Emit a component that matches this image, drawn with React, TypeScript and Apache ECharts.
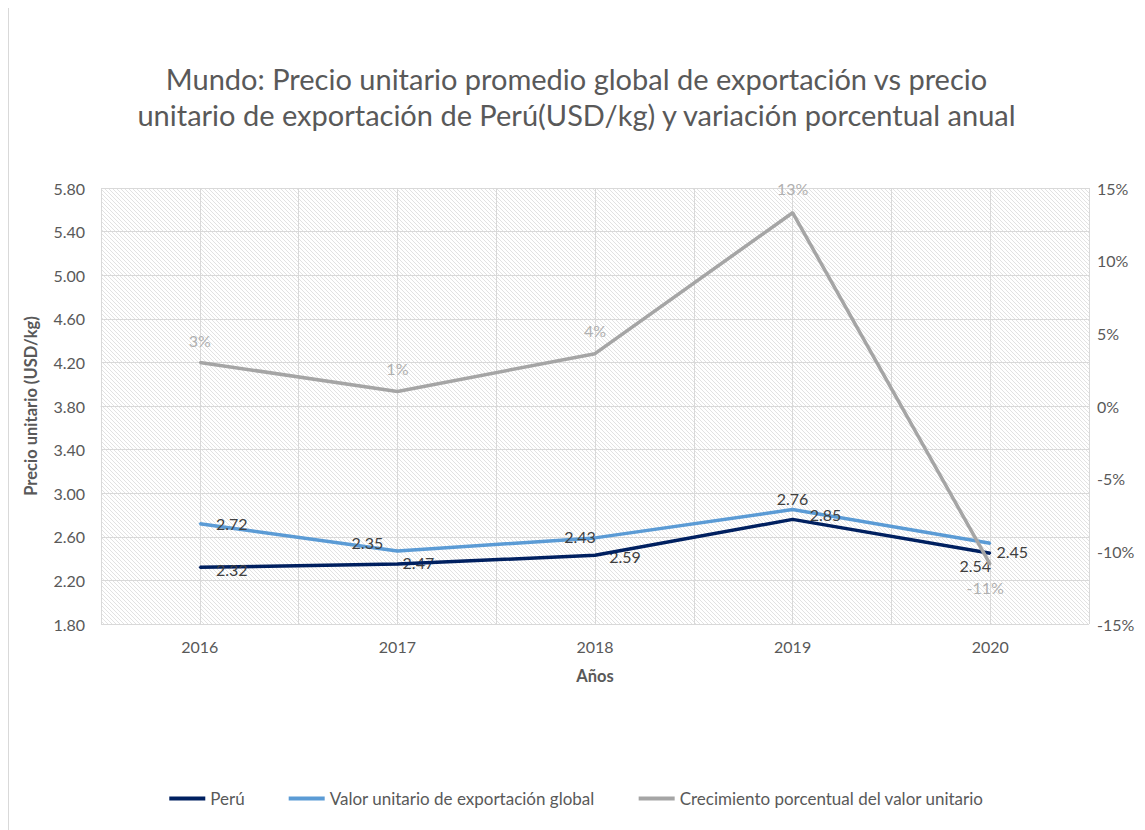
import React, { useEffect, useRef } from "react";
import * as echarts from "echarts";

const years = ["2016", "2017", "2018", "2019", "2020"];
const peru = [2.32, 2.35, 2.43, 2.76, 2.45];
const globalUnit = [2.72, 2.47, 2.59, 2.85, 2.54];
const growth = [3.0, 1.0, 3.6, 13.3, -10.9];

const peruLabelOffsets = [[32, 2], [-30, -22], [-15, -19], [0, -21], [22, -2]];
const globalLabelOffsets = [[32, 0], [21, 12], [30, 19], [33, 5], [-15, 22]];
const growthLabelOffsets = [[0, -22], [0, -23], [0, -23], [0, -24], [-5, 23]];

const FONT = "Lato, 'Noto Sans', sans-serif";
const C_PERU = "#002060";
const C_GLOBAL = "#5B9BD5";
const C_GROWTH = "#A5A5A5";
const C_TEXT = "#595959";
const C_GRID = "#d9d9d9";

function makeHatch() {
  const c = document.createElement("canvas");
  c.width = 4;
  c.height = 4;
  const ctx = c.getContext("2d")!;
  ctx.fillStyle = "#ffffff";
  ctx.fillRect(0, 0, 4, 4);
  ctx.fillStyle = "#e2e2e2";
  for (let i = 0; i < 4; i++) ctx.fillRect(i, i, 1, 1);
  return c.toDataURL();
}

export default function App() {
  const ref = useRef<HTMLDivElement>(null);
  useEffect(() => {
    if (!ref.current) return;
    const chart = echarts.init(ref.current, undefined, { renderer: "svg" });
    const hatch = makeHatch();
    const labelBase = {
      show: true,
      position: "inside",
      fontFamily: FONT,
      fontSize: 16,
      color: "#404040",
    };
    chart.setOption({
      animation: false,
      backgroundColor: "#ffffff",
      title: {
        text:
          "Mundo: Precio unitario promedio global de exportación vs precio\nunitario de exportación de Perú(USD/kg) y variación porcentual anual",
        left: "center",
        top: 50,
        textStyle: {
          fontFamily: FONT,
          fontSize: 29,
          fontWeight: "normal",
          color: C_TEXT,
          lineHeight: 36,
        },
      },
      legend: {
        bottom: 18,
        left: "center",
        icon: "rect",
        itemWidth: 36,
        itemHeight: 4,
        itemGap: 44,
        textStyle: { fontFamily: FONT, fontSize: 17, color: C_TEXT },
        data: ["Perú", "Valor unitario de exportación global", "Crecimiento porcentual del valor unitario"],
      },
      grid: {
        left: 92,
        right: 55,
        top: 183,
        bottom: 206,
        show: true,
        borderWidth: 0,
        backgroundColor: { image: hatch, repeat: "repeat", imageWidth: 4, imageHeight: 4 },
      },
      xAxis: [
        {
          type: "category",
          data: years,
          boundaryGap: true,
          name: "Años",
          nameLocation: "middle",
          nameGap: 43,
          nameTextStyle: { fontFamily: FONT, fontSize: 16.5, fontWeight: "bold", color: C_TEXT },
          axisLine: { show: true, lineStyle: { color: C_GRID, width: 1 } },
          axisTick: { show: false },
          axisLabel: { fontFamily: FONT, fontSize: 16, color: C_TEXT, margin: 14 },
          splitLine: { show: false },
        },
        {
          type: "category",
          data: ["", "", "", "", "", "", "", "", "", ""],
          boundaryGap: true,
          position: "bottom",
          axisLine: { show: false },
          axisTick: { show: false },
          axisLabel: { show: false },
          splitLine: { show: true, lineStyle: { color: C_GRID, width: 1 } },
        },
      ],
      yAxis: [
        {
          type: "value",
          min: 1.8,
          max: 5.8,
          interval: 0.2,
          name: "Precio unitario (USD/kg)",
          nameLocation: "middle",
          nameGap: 62,
          nameRotate: 90,
          nameTextStyle: { fontFamily: FONT, fontSize: 16.5, fontWeight: "bold", color: C_TEXT },
          axisLine: { show: false },
          axisTick: { show: false },
          axisLabel: {
            fontFamily: FONT,
            fontSize: 16,
            color: C_TEXT,
            margin: 16,
            formatter: (v: number) =>
              Math.round((v - 1.8) / 0.2) % 2 === 0 ? v.toFixed(2) : "",
          },
          splitLine: {
            show: true,
            lineStyle: { color: [C_GRID, "rgba(0,0,0,0)"], width: 1 },
          },
        },
        {
          type: "value",
          min: -15,
          max: 15,
          interval: 5,
          position: "right",
          axisLine: { show: false },
          axisTick: { show: false },
          axisLabel: {
            fontFamily: FONT,
            fontSize: 16,
            color: C_TEXT,
            margin: 8,
            formatter: (v: number) => `${v}%`,
          },
          splitLine: { show: false },
        },
      ],
      series: [
        {
          name: "Perú",
          type: "line",
          xAxisIndex: 0,
          yAxisIndex: 0,
          symbol: "circle",
          symbolSize: 2,
          z: 4,
          itemStyle: { color: C_PERU },
          lineStyle: { color: C_PERU, width: 3.5 },
          data: peru.map((v, i) => ({
            value: v,
            label: {
              ...labelBase,
              offset: peruLabelOffsets[i],
              formatter: (p: any) => p.value.toFixed(2),
            },
          })),
        },
        {
          name: "Valor unitario de exportación global",
          type: "line",
          xAxisIndex: 0,
          yAxisIndex: 0,
          symbol: "circle",
          symbolSize: 2,
          z: 3,
          itemStyle: { color: C_GLOBAL },
          lineStyle: { color: C_GLOBAL, width: 3.5 },
          data: globalUnit.map((v, i) => ({
            value: v,
            label: {
              ...labelBase,
              offset: globalLabelOffsets[i],
              formatter: (p: any) => p.value.toFixed(2),
            },
          })),
        },
        {
          name: "Crecimiento porcentual del valor unitario",
          type: "line",
          xAxisIndex: 0,
          yAxisIndex: 1,
          symbol: "circle",
          symbolSize: 2,
          z: 5,
          itemStyle: { color: C_GROWTH },
          lineStyle: { color: C_GROWTH, width: 3.5 },
          data: growth.map((v, i) => ({
            value: v,
            label: {
              ...labelBase,
              color: "#b0b0b0",
              offset: growthLabelOffsets[i],
              formatter: (p: any) => `${Math.round(p.value)}%`,
            },
          })),
        },
      ],
    });
    return () => chart.dispose();
  }, []);

  return (
    <div
      style={{
        marginTop: -4,
        width: 1135,
        height: 830,
        border: "1px solid #d9d9d9",
        background: "#fff",
      }}
    >
      <div ref={ref} style={{ width: 1135, height: 825 }} />
    </div>
  );
}
